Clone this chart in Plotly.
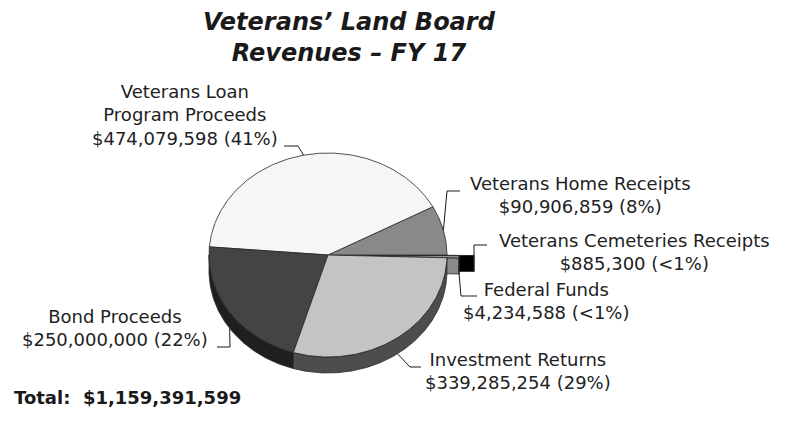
import numpy as np
import plotly.graph_objects as go

# ---------------- data ----------------
categories = ["Veterans Home Receipts", "Veterans Loan Program Proceeds", "Bond Proceeds",
              "Investment Returns", "Federal Funds", "Veterans Cemeteries Receipts"]
values = [90906859, 474079598, 250000000, 339285254, 4234588, 885300]
pct_text = ["8%", "41%", "22%", "29%", "<1%", "<1%"]
label_lines = [["Veterans Home Receipts"], ["Veterans Loan", "Program Proceeds"], ["Bond Proceeds"],
               ["Investment Returns"], ["Federal Funds"], ["Veterans Cemeteries Receipts"]]
title_lines = ["Veterans\u2019 Land Board", "Revenues \u2013 FY 17"]
total_caption = "Total:"

# ---------------- styles / layout ----------------
top_colors = ["#898989", "#f6f6f6", "#444444", "#c4c4c4", "#999999", "#050505"]
side_colors = ["#5a5a5a", "#bdbdbd", "#1f1f1f", "#4d4d4d", "#8a8a8a", "#000000"]
explode_px = [0, 0, 0, 0, 12, 27]
CX, CY, RX, RY, DEPTH = 328.0, 255.0, 119.0, 102.0, 16.0
EDGE = "#262626"
FONT = "DejaVu Sans"
W, H = 790, 422

label_pos = [(580, 195), (185, 115), (115, 328), (518, 371), (546, 300.5), (634, 251.5)]
# leader: anchor on slice (computed) -> elbow -> end
leader_pts = [[(447, 191), (460, 191)], [(298, 146), (284, 146)], [(230, 347), (217, 347)],
              [(410, 367), (421, 367)], [(461, 296), (477, 296)], [(474, 245), (487, 245)]]
leader_anchor_on_wall = [False, False, True, True, True, False]

# ---------------- geometry ----------------
vals = np.array(values, dtype=float)
fracs = vals / vals.sum()
ends = np.cumsum(fracs) * 360.0
starts = ends - fracs * 360.0
mids = (starts + ends) / 2.0
n = len(values)


def offset(i):
    e = explode_px[i]
    m = np.radians(mids[i])
    return e * np.cos(m), -e * np.sin(m) * RY / RX


def arc(a, b, dx, dy, z=0.0):
    k = max(int(abs(b - a) * 2), 2)
    r = np.radians(np.linspace(a, b, k))
    return list(CX + dx + RX * np.cos(r)), list(CY + dy - RY * np.sin(r) + z)


fig = go.Figure()


def poly(xs, ys, fill):
    fig.add_trace(go.Scatter(x=xs + [xs[0]], y=ys + [ys[0]], mode="lines", fill="toself",
                             fillcolor=fill, line=dict(color=EDGE, width=0.8),
                             hoverinfo="skip", showlegend=False))


def top_face(i):
    dx, dy = offset(i)
    ax, ay = arc(starts[i], ends[i], dx, dy)
    poly([CX + dx] + ax, [CY + dy] + ay, top_colors[i])


def rim_wall(i):
    a, b = max(starts[i], 180.0), min(ends[i], 360.0)
    if b <= a:
        return
    dx, dy = offset(i)
    tx, ty = arc(a, b, dx, dy)
    bx, by = arc(b, a, dx, dy, DEPTH)
    poly(tx + bx, ty + by, side_colors[i])


def start_face(i):
    if np.cos(np.radians(starts[i])) <= 0:
        return
    dx, dy = offset(i)
    r = np.radians(starts[i])
    px, py = CX + dx + RX * np.cos(r), CY + dy - RY * np.sin(r)
    poly([CX + dx, px, px, CX + dx], [CY + dy, py, py + DEPTH, CY + dy + DEPTH], side_colors[i])


main = [i for i in range(n) if explode_px[i] == 0]
expl = [i for i in range(n) if explode_px[i] > 0]

# 1) main-slice cut faces next to the exploded gap
for i in main:
    if explode_px[(i - 1) % n] > 0:
        start_face(i)
# 2) exploded slices, back to front
for i in sorted(expl, key=lambda j: -np.sin(np.radians(mids[j]))):
    start_face(i)
    rim_wall(i)
    top_face(i)
# 3) main rim walls then tops
for i in main:
    rim_wall(i)
for i in main:
    top_face(i)

# leaders
for i in range(n):
    dx, dy = offset(i)
    m = np.radians(mids[i])
    ax_, ay_ = CX + dx + RX * np.cos(m), CY + dy - RY * np.sin(m)
    if leader_anchor_on_wall[i]:
        ay_ += DEPTH
    pts = [(ax_, ay_)] + leader_pts[i]
    fig.add_trace(go.Scatter(x=[p[0] for p in pts], y=[p[1] for p in pts], mode="lines",
                             line=dict(color="#1a1a1a", width=1), hoverinfo="skip", showlegend=False))

annotations = []
for i in range(n):
    txt = "<br>".join(label_lines[i] + [f"${values[i]:,} ({pct_text[i]})"])
    annotations.append(dict(x=label_pos[i][0], y=label_pos[i][1], xref="x", yref="y", text=txt,
                            showarrow=False, xanchor="center", yanchor="middle", align="center",
                            font=dict(family=FONT, size=18, color="#222222")))
annotations.append(dict(x=349, y=37, xref="x", yref="y",
                        text="<br>".join(f"<b><i>{t}</i></b>" for t in title_lines),
                        showarrow=False, xanchor="center", yanchor="middle", align="center",
                        font=dict(family=FONT, size=24, color="#1a1a1a")))
annotations.append(dict(x=12, y=397, xref="x", yref="y",
                        text=f"<b>{total_caption}\u00a0 ${sum(values):,}</b>",
                        showarrow=False, xanchor="left", yanchor="middle",
                        font=dict(family=FONT, size=18, color="#1a1a1a")))

fig.update_layout(
    width=W, height=H, margin=dict(l=0, r=0, t=0, b=0),
    paper_bgcolor="white", plot_bgcolor="white",
    xaxis=dict(range=[0, W], visible=False, fixedrange=True),
    yaxis=dict(range=[H, 0], visible=False, fixedrange=True),
    annotations=annotations, showlegend=False,
)

fig.write_html("out.html", post_script="document.body.style.margin='0px';",
               config={"displayModeBar": False})
